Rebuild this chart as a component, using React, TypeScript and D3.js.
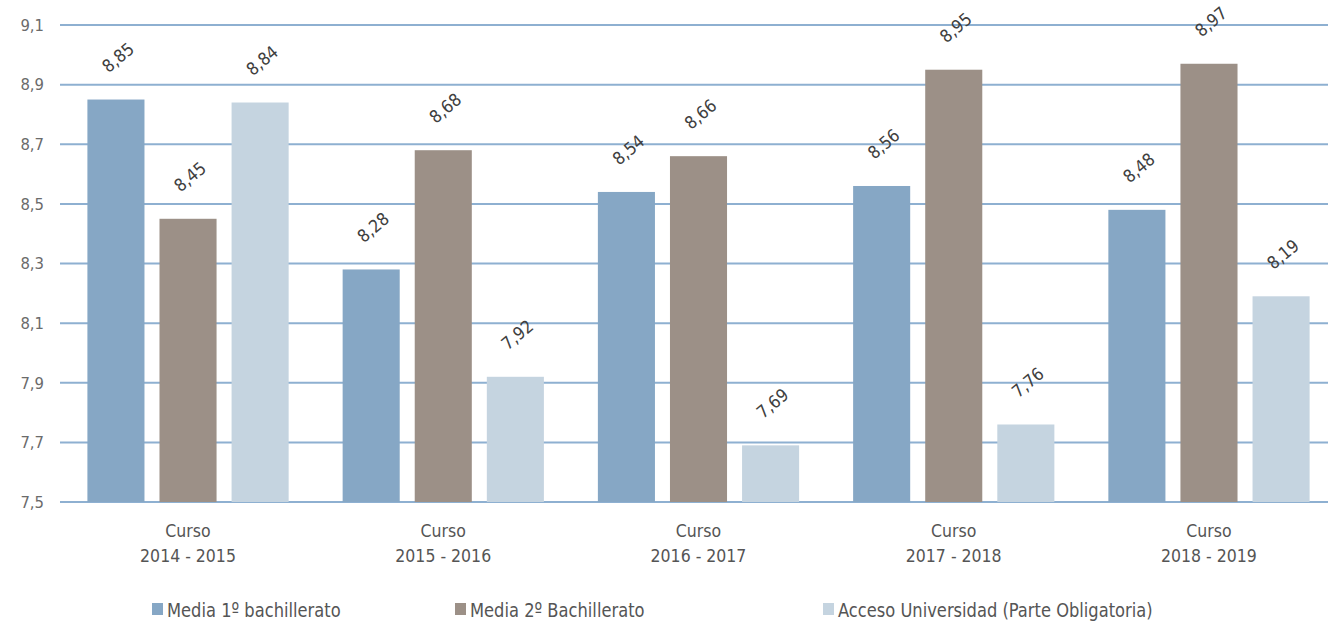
import React from "react";
import * as d3 from "d3";

const courses = ["2014 - 2015", "2015 - 2016", "2016 - 2017", "2017 - 2018", "2018 - 2019"];
const seriesNames = ["Media 1º bachillerato", "Media 2º Bachillerato", "Acceso Universidad (Parte Obligatoria)"];
const media1 = [8.85, 8.28, 8.54, 8.56, 8.48];
const media2 = [8.45, 8.68, 8.66, 8.95, 8.97];
const acceso = [8.84, 7.92, 7.69, 7.76, 8.19];
const yTicks = [7.5, 7.7, 7.9, 8.1, 8.3, 8.5, 8.7, 8.9, 9.1];
const colors = ["#86a7c5", "#9c9087", "#c5d4e0"];

const W = 1328, H = 625;
const FONT = "'DejaVu Sans Condensed', 'Liberation Sans Narrow', 'DejaVu Sans', sans-serif";

export default function App() {
  const series = [media1, media2, acceso];
  const x = d3.scaleBand<string>().domain(courses).range([60.4, 1336.6]).paddingInner(0).paddingOuter(0);
  const xi = d3.scaleBand<number>().domain([0, 1, 2]).range([27, 255.25 - 27]).paddingInner(15 / 72).paddingOuter(0);
  const y = d3.scaleLinear().domain([7.5, 9.1]).range([502, 25]);
  const fmt = (v: number) => v.toFixed(2).replace(".", ",");
  const legendX = [152, 455, 823];
  return (
    <svg width={W} height={H} style={{ position: "absolute", left: 0, top: 0 }}>
      <rect width={W} height={H} fill="#fff" />
      {yTicks.map((t) => (
        <g key={t}>
          <line x1={60} x2={W} y1={y(t)} y2={y(t)} stroke="#8eb0d1" strokeWidth={2} />
          <text x={44} y={y(t)} dy="0.35em" textAnchor="end" fontFamily={FONT} fontSize={16.5} fill="#6b6b6b">
            {t.toFixed(1).replace(".", ",")}
          </text>
        </g>
      ))}
      {courses.map((c, ci) => (
        <g key={c} transform={`translate(${x(c)},0)`}>
          {series.map((s, si) => {
            const bx = xi(si)!;
            const bw = xi.bandwidth();
            const top = y(s[ci]);
            return (
              <g key={si}>
                <rect x={bx} y={top} width={bw} height={y(7.5) - top} fill={colors[si]} />
                <text
                  transform={`translate(${bx + bw / 2 + 2},${top - 42}) rotate(-40)`}
                  textAnchor="middle"
                  dy="0.35em"
                  fontFamily={FONT}
                  fontSize={17.5}
                  fill="#404040"
                >
                  {fmt(s[ci])}
                </text>
              </g>
            );
          })}
          <text x={x.bandwidth() / 2} y={531} textAnchor="middle" dy="0.35em" fontFamily={FONT} fontSize={17.5} fill="#555">
            Curso
          </text>
          <text x={x.bandwidth() / 2} y={556} textAnchor="middle" dy="0.35em" fontFamily={FONT} fontSize={17.5} fill="#555">
            {c}
          </text>
        </g>
      ))}
      {seriesNames.map((n, i) => (
        <g key={n} transform={`translate(${legendX[i]},0)`}>
          <rect x={0} y={603} width={11} height={12} fill={colors[i]} />
          <text
            transform="translate(15,610) scale(0.93,1)"
            dy="0.35em"
            fontFamily={FONT}
            fontSize={19.5}
            fill="#555"
          >
            {n}
          </text>
        </g>
      ))}
    </svg>
  );
}
